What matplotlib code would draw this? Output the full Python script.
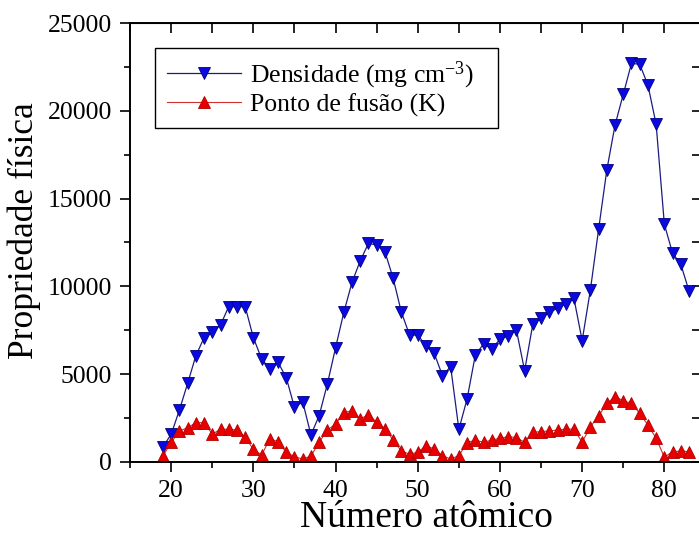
"""
Propriedade física vs número atômico (densidade e ponto de fusão)
"""

import matplotlib
matplotlib.use("Agg")
import matplotlib.pyplot as plt

z = list(range(19, 84))

densidade = [
    870, 1580, 2960, 4480, 6050, 7080, 7420, 7800, 8850, 8850,
    8850, 7080, 5870, 5300, 5680, 4800, 3110, 3430, 1540, 2640,
    4440, 6510, 8520, 10230, 11460, 12450, 12360, 11980, 10470, 8540,
    7230, 7230, 6620, 6190, 4920, 5430, 1860, 3590, 6090, 6720,
    6440, 6990, 7180, 7520, 5200, 7860, 8180, 8520, 8750, 9000,
    9320, 6910, 9800, 13250, 16630, 19190, 20940, 22700, 22650, 21470,
    19230, 13540, 11890, 11260, 9740,
]

ponto_fusao = [
    340, 1120, 1770, 1950, 2240, 2240, 1590, 1860, 1860, 1820,
    1400, 720, 400, 1310, 1160, 550, 300, 170, 340, 1120,
    1820, 2160, 2810, 2920, 2450, 2690, 2270, 1890, 1260, 620,
    450, 550, 930, 740, 360, 170, 360, 1100, 1250, 1120,
    1250, 1350, 1440, 1390, 1120, 1690, 1730, 1770, 1820, 1860,
    1880, 1120, 2010, 2620, 3340, 3720, 3490, 3340, 2770, 2110,
    1350, 270, 590, 620, 590,
]

plt.rcParams["font.family"] = ["Liberation Serif", "DejaVu Serif"]
plt.rcParams["mathtext.fontset"] = "custom"
plt.rcParams["mathtext.rm"] = "Liberation Serif"
plt.rcParams["mathtext.it"] = "Liberation Serif:italic"


def main():
    fig = plt.figure(figsize=(6.99, 5.38), dpi=100)
    ax = fig.add_axes([130.1 / 699, 76 / 538, 569.6 / 699, 439 / 538])

    ax.plot(z, densidade, color="#1c1c80", lw=0.9, marker="v", ms=8.5,
            mfc="#0a0ae0", mec="#00007a", mew=0.6,
            label="Densidade (mg cm$^{-3}$)")
    ax.plot(z, ponto_fusao, color="#d03030", lw=0.8, marker="^", ms=8.5,
            mfc="#e80000", mec="#b00000", mew=0.6,
            label="Ponto de fusão (K)")

    ax.set_xlim(15, 84.3)
    ax.set_ylim(0, 25000)
    ax.set_xticks(range(20, 81, 10))
    ax.set_xticks(range(15, 85, 5), minor=True)
    ax.set_yticks(range(0, 25001, 5000))
    ax.set_yticks(range(0, 25001, 2500), minor=True)
    ax.tick_params(which="major", direction="out", length=7, width=1.2,
                   labelsize=18.5, pad=6)
    ax.tick_params(which="minor", direction="out", length=4, width=1.2)
    for s in ax.spines.values():
        s.set_linewidth(1.4)

    top = ax.secondary_xaxis("top")
    top.set_xticks(range(15, 85, 5))
    top.tick_params(direction="in", length=7, width=1.2, labeltop=False)
    right = ax.secondary_yaxis("right")
    right.set_yticks(range(0, 25001, 2500))
    right.tick_params(direction="in", length=6, width=1.2, labelright=False)

    ax.set_xlabel("Número atômico", fontsize=27)
    ax.xaxis.set_label_coords(0.52, -0.088)
    ax.set_ylabel("Propriedade física", fontsize=25.5)
    ax.yaxis.set_label_coords(-0.156, 0.528)

    leg = ax.legend(loc="upper left", bbox_to_anchor=(0.0437, 0.0, 0.602, 0.943),
                    mode="expand", borderaxespad=0, fontsize=18.5,
                    handlelength=2.9, handletextpad=0.35, borderpad=0.45,
                    labelspacing=0.1, fancybox=False, edgecolor="black",
                    framealpha=1)
    leg.get_frame().set_linewidth(1.0)

    fig.savefig("out.png", dpi=100)
    plt.close(fig)


if __name__ == "__main__":
    main()
